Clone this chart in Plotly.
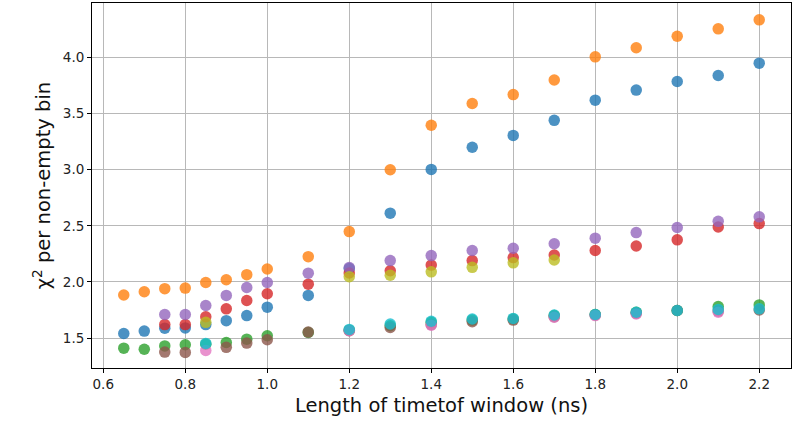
import plotly.graph_objects as go

# Window lengths (ns)
x_all = [0.65, 0.7, 0.75, 0.8, 0.85, 0.9, 0.95, 1.0, 1.1, 1.2,
         1.3, 1.4, 1.5, 1.6, 1.7, 1.8, 1.9, 2.0, 2.1, 2.2]
x_from075 = x_all[2:]
x_olive = [0.85, 1.2, 1.3, 1.4, 1.5, 1.6, 1.7]
x_cyan = [0.85, 1.2, 1.3, 1.4, 1.5, 1.6, 1.7, 1.8, 1.9, 2.0, 2.1, 2.2]
x_brown = [0.75, 0.8, 0.9, 0.95, 1.0, 1.1, 1.2, 1.3, 1.4, 1.5,
           1.6, 1.7, 1.8, 1.9, 2.0, 2.1, 2.2]
x_pink = [0.85, 1.2, 1.4, 1.7, 1.8, 1.9, 2.1]

# chi^2 per non-empty bin for each configuration
chi_blue = [1.54, 1.562, 1.588, 1.59, 1.62, 1.655, 1.70, 1.775, 1.88, 2.12,
            2.613, 3.003, 3.20, 3.306, 3.44, 3.62, 3.71, 3.786, 3.84, 3.95]
chi_orange = [1.884, 1.913, 1.94, 1.945, 1.995, 2.02, 2.065, 2.115, 2.225, 2.449,
              3.0, 3.396, 3.59, 3.67, 3.80, 4.006, 4.087, 4.19, 4.256, 4.336]
chi_green = [1.41, 1.40, 1.43, 1.44, 1.445, 1.46, 1.49, 1.52, 1.55, 1.57,
             1.61, 1.64, 1.66, 1.67, 1.70, 1.71, 1.73, 1.745, 1.78, 1.795]
chi_red = [1.62, 1.62, 1.69, 1.76, 1.835, 1.895, 1.98, 2.08, 2.10,
           2.15, 2.19, 2.217, 2.24, 2.28, 2.32, 2.375, 2.49, 2.52]
chi_purple = [1.71, 1.71, 1.79, 1.88, 1.95, 1.995, 2.078, 2.128, 2.19,
              2.235, 2.28, 2.30, 2.34, 2.39, 2.44, 2.485, 2.54, 2.58]
chi_brown = [1.375, 1.372, 1.417, 1.455, 1.485, 1.553, 1.565, 1.595, 1.62, 1.645,
             1.66, 1.69, 1.705, 1.72, 1.745, 1.74, 1.75]
chi_pink = [1.39, 1.565, 1.615, 1.685, 1.70, 1.715, 1.73]
chi_olive = [1.64, 2.047, 2.06, 2.09, 2.13, 2.17, 2.196]
chi_cyan = [1.452, 1.577, 1.625, 1.65, 1.67, 1.675, 1.705, 1.71, 1.73, 1.745, 1.755, 1.76]

series = [
    (x_all, chi_blue, "#1f77b4"),
    (x_all, chi_orange, "#ff7f0e"),
    (x_all, chi_green, "#2ca02c"),
    (x_from075, chi_red, "#d62728"),
    (x_from075, chi_purple, "#9467bd"),
    (x_brown, chi_brown, "#8c564b"),
    (x_pink, chi_pink, "#e377c2"),
    (x_olive, chi_olive, "#bcbd22"),
    (x_cyan, chi_cyan, "#17becf"),
]

fig = go.Figure()
for xs, ys, col in series:
    fig.add_trace(go.Scatter(
        x=xs, y=ys, mode="markers",
        marker=dict(size=11.5, color=col, opacity=0.8, line=dict(width=0)),
        showlegend=False, hoverinfo="skip",
    ))

axis_common = dict(
    showline=True, linecolor="black", linewidth=1, mirror=True,
    showgrid=True, gridcolor="#b8b8b8", gridwidth=1,
    ticks="outside", ticklen=4, tickwidth=1, tickcolor="black",
    tickfont=dict(family="DejaVu Sans", size=13.5, color="#222"),
    zeroline=False,
)

fig.update_xaxes(
    range=[0.5725, 2.2775], tickvals=[0.6, 0.8, 1.0, 1.2, 1.4, 1.6, 1.8, 2.0, 2.2],
    ticktext=["0.6", "0.8", "1.0", "1.2", "1.4", "1.6", "1.8", "2.0", "2.2"],
    title=dict(text="Length of timetof window (ns)",
               font=dict(family="DejaVu Sans", size=19.5, color="#111"), standoff=7),
    **axis_common,
)
fig.update_yaxes(
    range=[1.233, 4.486], tickvals=[1.5, 2.0, 2.5, 3.0, 3.5, 4.0],
    ticktext=["1.5", "2.0", "2.5", "3.0", "3.5", "4.0"],
    title=dict(text="χ<sup>2</sup> per non-empty bin",
               font=dict(family="DejaVu Sans", size=19.5, color="#111"), standoff=6),
    **axis_common,
)

fig.update_layout(
    width=798, height=422,
    margin=dict(l=92, r=7, t=3, b=54),
    paper_bgcolor="white", plot_bgcolor="white",
)

fig.write_html("out.html")
